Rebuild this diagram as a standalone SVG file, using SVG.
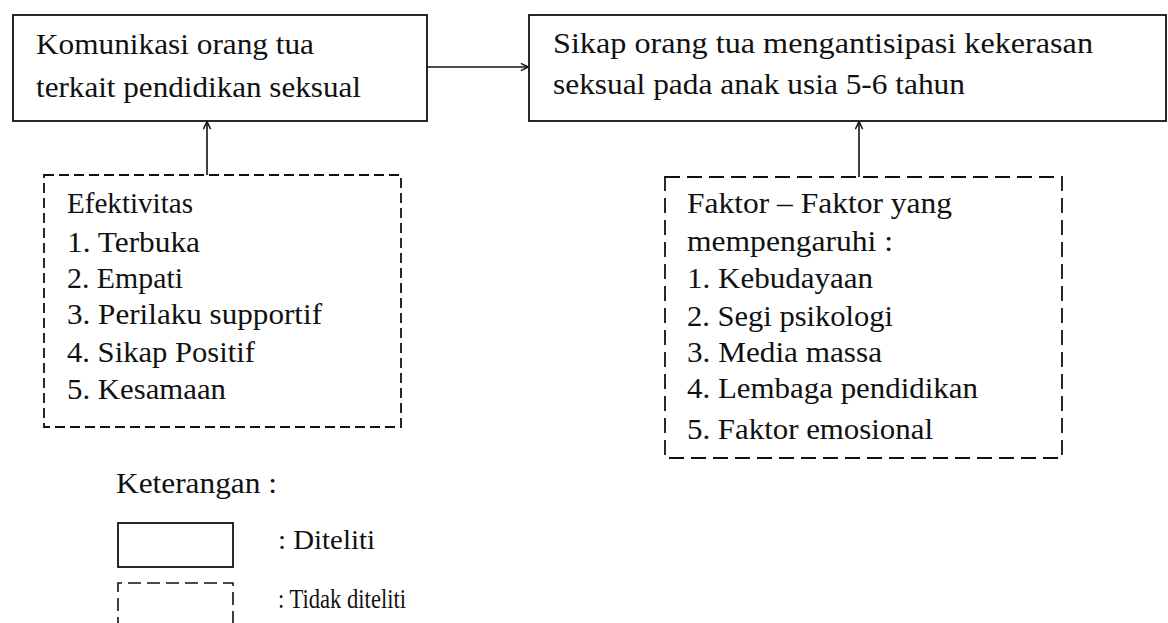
<svg xmlns="http://www.w3.org/2000/svg" width="1168" height="623" viewBox="0 0 1168 623">
<style>
text{font-family:"Liberation Serif","Times New Roman",serif;font-size:29px;fill:#111}
.small{font-size:28px}
.solid{fill:#fff;stroke:#111;stroke-width:1.8}
.dashL{fill:#fff;stroke:#111;stroke-width:1.8;stroke-dasharray:10 5}
.dashR{fill:#fff;stroke:#111;stroke-width:1.8;stroke-dasharray:15 7}
.dashG{fill:#fff;stroke:#111;stroke-width:1.6;stroke-dasharray:13 6}
.conn{fill:none;stroke:#111;stroke-width:1.6}
</style>
<defs>
<marker id="arr" viewBox="0 0 10 10" refX="9.5" refY="5" markerWidth="9" markerHeight="9" markerUnits="userSpaceOnUse" orient="auto">
<path d="M1,1 L9.5,5 L1,9" fill="none" stroke="#111" stroke-width="1.6"/>
</marker>
</defs>
<rect width="1168" height="623" fill="#fff"/>
<g id="connectors">
<line class="conn" x1="427" y1="67" x2="528.5" y2="67" marker-end="url(#arr)"/>
<line class="conn" x1="207" y1="175" x2="207" y2="121.5" marker-end="url(#arr)"/>
<line class="conn" x1="859" y1="177" x2="859" y2="121.5" marker-end="url(#arr)"/>
</g>
<g id="node-komunikasi">
<rect class="solid" x="13" y="15" width="414" height="106"/>
<text x="36" y="54" textLength="278" lengthAdjust="spacingAndGlyphs">Komunikasi orang tua</text>
<text x="36" y="97" textLength="325" lengthAdjust="spacingAndGlyphs">terkait pendidikan seksual</text>
</g>
<g id="node-sikap">
<rect class="solid" x="529" y="15" width="637" height="106"/>
<text x="553" y="53" textLength="540" lengthAdjust="spacingAndGlyphs">Sikap orang tua mengantisipasi kekerasan</text>
<text x="553" y="94" textLength="412" lengthAdjust="spacingAndGlyphs">seksual pada anak usia 5-6 tahun</text>
</g>
<g id="node-efektivitas">
<rect class="dashL" x="44" y="175" width="357" height="252"/>
<text x="67" y="213" textLength="126" lengthAdjust="spacingAndGlyphs">Efektivitas</text>
<text x="67" y="252" textLength="133" lengthAdjust="spacingAndGlyphs">1. Terbuka</text>
<text x="67" y="288" textLength="116" lengthAdjust="spacingAndGlyphs">2. Empati</text>
<text x="67" y="324" textLength="255" lengthAdjust="spacingAndGlyphs">3. Perilaku supportif</text>
<text x="67" y="362" textLength="188" lengthAdjust="spacingAndGlyphs">4. Sikap Positif</text>
<text x="67" y="399" textLength="159" lengthAdjust="spacingAndGlyphs">5. Kesamaan</text>
</g>
<g id="node-faktor">
<rect class="dashR" x="665" y="177" width="397" height="281"/>
<text x="687" y="213" textLength="265" lengthAdjust="spacingAndGlyphs">Faktor – Faktor yang</text>
<text x="687" y="251" textLength="206" lengthAdjust="spacingAndGlyphs">mempengaruhi :</text>
<text x="687" y="288" textLength="186" lengthAdjust="spacingAndGlyphs">1. Kebudayaan</text>
<text x="687" y="326" textLength="206" lengthAdjust="spacingAndGlyphs">2. Segi psikologi</text>
<text x="687" y="362" textLength="195" lengthAdjust="spacingAndGlyphs">3. Media massa</text>
<text x="687" y="398" textLength="291" lengthAdjust="spacingAndGlyphs">4. Lembaga pendidikan</text>
<text x="687" y="439" textLength="246" lengthAdjust="spacingAndGlyphs">5. Faktor emosional</text>
</g>
<g id="legend">
<text x="116" y="493" textLength="161" lengthAdjust="spacingAndGlyphs">Keterangan :</text>
<rect class="solid" x="118" y="523" width="115" height="44"/>
<text class="small" x="278" y="549" textLength="97" lengthAdjust="spacingAndGlyphs">: Diteliti</text>
<path class="dashG" d="M118,630 L118,583 L233,583 L233,630"/>
<text class="small" x="278" y="608" textLength="128" lengthAdjust="spacingAndGlyphs">: Tidak diteliti</text>
</g>
</svg>
